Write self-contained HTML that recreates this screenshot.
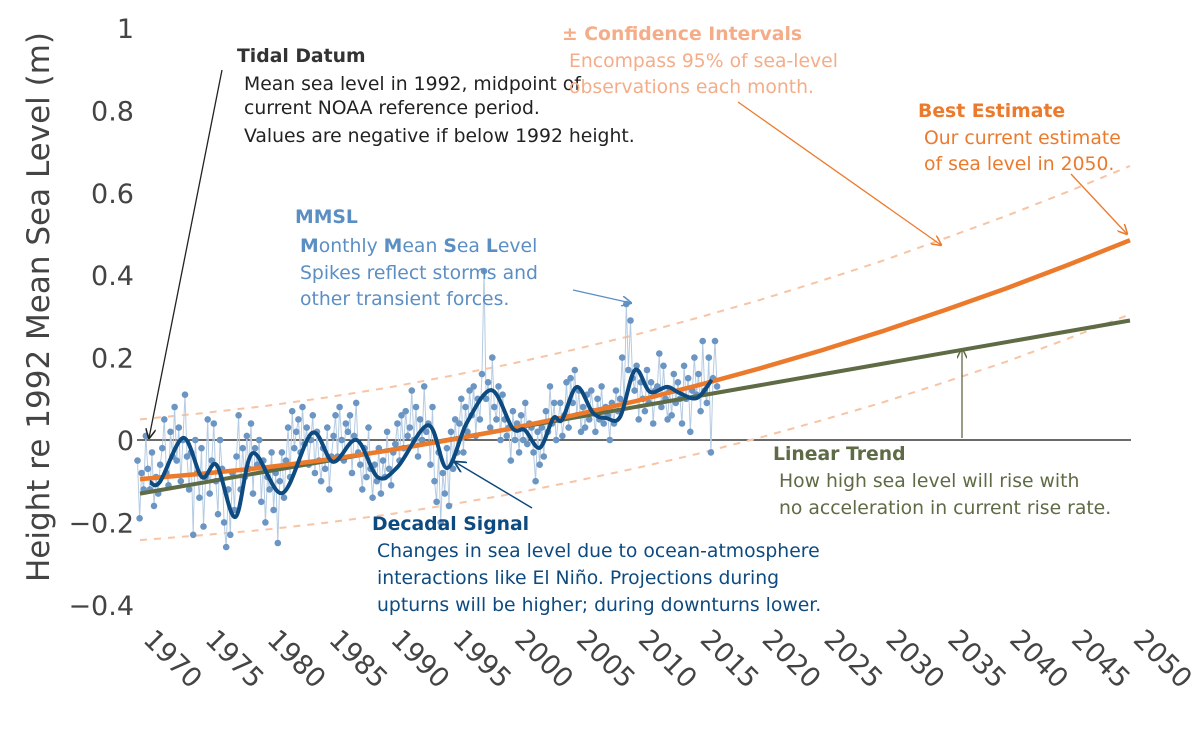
<!DOCTYPE html>
<html><head><meta charset="utf-8"><style>
html,body{margin:0;padding:0;background:#fff;}
svg{display:block;font-family:"DejaVu Sans","Liberation Sans",sans-serif;}
</style></head><body>
<svg id="chart" width="1200" height="737" viewBox="0 0 1200 737">
<defs>
<marker id="ah" viewBox="0 0 10 10" refX="9" refY="5" markerWidth="8" markerHeight="8" orient="auto-start-reverse"><path d="M0,0 L10,5 L0,10" fill="none" stroke="context-stroke" stroke-width="1.5"/></marker>
</defs>
<g id="axes"></g>
<g id="marks"></g>
<g id="notes" font-size="18.8">
  <text x="237" y="62" font-weight="bold" fill="#333">Tidal Datum</text>
  <text x="244" y="90" fill="#222">Mean sea level in 1992, midpoint of<tspan x="244" y="114">current NOAA reference period.</tspan><tspan x="244" y="142">Values are negative if below 1992 height.</tspan></text>
  <line x1="222" y1="70" x2="149" y2="438" stroke="#222" stroke-width="1.3" marker-end="url(#ah)"/>

  <text x="562" y="40" font-weight="bold" fill="#f4ad88">± Confidence Intervals</text>
  <text x="569" y="67" fill="#f4ad88">Encompass 95% of sea-level<tspan x="569" y="93">observations each month.</tspan></text>
  <line x1="738" y1="102" x2="941" y2="245" stroke="#ec7a2c" stroke-width="1.3" marker-end="url(#ah)"/>

  <text x="918" y="117" font-weight="bold" fill="#ec7a2c">Best Estimate</text>
  <text x="924" y="144" fill="#ec7a2c">Our current estimate<tspan x="924" y="170">of sea level in 2050.</tspan></text>
  <line x1="1071" y1="174" x2="1127" y2="234" stroke="#ec7a2c" stroke-width="1.3" marker-end="url(#ah)"/>

  <text x="295" y="223" font-weight="bold" fill="#5b8fc4">MMSL</text>
  <text x="300" y="252" fill="#5b8fc4"><tspan font-weight="bold">M</tspan>onthly <tspan font-weight="bold">M</tspan>ean <tspan font-weight="bold">S</tspan>ea <tspan font-weight="bold">L</tspan>evel<tspan x="300" y="279">Spikes reflect storms and</tspan><tspan x="300" y="305">other transient forces.</tspan></text>
  <line x1="573" y1="290" x2="631" y2="303" stroke="#5b8fc4" stroke-width="1.3" marker-end="url(#ah)"/>

  <text x="773" y="460" font-weight="bold" fill="#5e6b45">Linear Trend</text>
  <text x="779" y="487" fill="#5e6b45">How high sea level will rise with<tspan x="779" y="514">no acceleration in current rise rate.</tspan></text>
  <line x1="962" y1="438" x2="962" y2="349" stroke="#5e6b45" stroke-width="1.3" marker-end="url(#ah)"/>

  <text x="372" y="530" font-weight="bold" fill="#0d4a80">Decadal Signal</text>
  <text x="377" y="557" fill="#0d4a80">Changes in sea level due to ocean-atmosphere<tspan x="377" y="584">interactions like El Niño. Projections during</tspan><tspan x="377" y="611">upturns will be higher; during downturns lower.</tspan></text>
  <line x1="532" y1="508" x2="455" y2="462" stroke="#0d4a80" stroke-width="1.5" marker-end="url(#ah)"/>
</g>
</svg>
<script>
const yTicks=[-0.4,-0.2,0,0.2,0.4,0.6,0.8,1];
const yTickLabels=["\u22120.4","\u22120.2","0","0.2","0.4","0.6","0.8","1"];
const xTicks=[1970,1975,1980,1985,1990,1995,2000,2005,2010,2015,2020,2025,2030,2035,2040,2045,2050];
const projYears=[1970,1975,1980,1985,1990,1995,2000,2005,2010,2015,2020,2025,2030,2035,2040,2045,2050];
const bestEstimate=[-0.095,-0.082,-0.067,-0.048,-0.026,0.000,0.028,0.060,0.094,0.132,0.173,0.217,0.264,0.315,0.368,0.425,0.485];
const upperCI=[0.050,0.065,0.082,0.103,0.127,0.155,0.185,0.219,0.255,0.296,0.339,0.386,0.435,0.489,0.544,0.603,0.665];
const lowerCI=[-0.243,-0.231,-0.218,-0.201,-0.181,-0.157,-0.131,-0.101,-0.069,-0.034,0.005,0.047,0.091,0.140,0.190,0.246,0.305];
const trendYears=[1970,2050];
const linearTrend=[-0.13,0.29];
const decadalYears=[1970.8,1971.6,1973.5,1975.0,1976.2,1977.7,1979.1,1981.5,1983.9,1985.6,1987.5,1989.2,1990.8,1993.3,1994.8,1996.4,1998.4,2000.1,2001.1,2002.3,2003.4,2004.1,2005.3,2006.6,2007.7,2008.8,2010.0,2011.2,2012.6,2013.6,2015.0,2016.2];
const decadalValues=[-0.102,-0.102,0.005,-0.09,-0.061,-0.187,-0.032,-0.129,0.017,-0.053,0.0,-0.09,-0.066,0.036,-0.068,0.041,0.121,0.029,0.024,-0.019,0.053,0.049,0.129,0.066,0.053,0.056,0.170,0.117,0.129,0.114,0.102,0.146];
const mmslStartYear=1969.8;
const mmslPerYear=6;
const mmslValues=[
-0.05,-0.19,-0.08,-0.12,0.01,-0.07, -0.12,-0.03,-0.16,-0.09,-0.13,-0.06, -0.02,0.05,-0.08,-0.11,0.02,-0.04,
0.08,-0.05,0.03,-0.1,0.0,0.11, -0.04,-0.12,-0.03,-0.23,0.0,-0.08, -0.14,-0.02,-0.21,-0.09,0.05,-0.13,
-0.05,0.04,-0.1,-0.18,0.0,-0.07, -0.2,-0.26,-0.12,-0.23,-0.08,-0.17, -0.04,0.06,-0.12,-0.02,-0.09,0.01,
-0.07,0.04,-0.13,-0.02,-0.06,0.0, -0.15,-0.05,-0.2,-0.09,-0.12,-0.03, -0.17,-0.08,-0.25,-0.1,-0.03,-0.14,
-0.05,0.03,-0.09,0.07,-0.02,0.02, 0.05,-0.03,0.08,-0.01,0.03,-0.06, 0.0,0.06,-0.08,0.02,-0.05,-0.1,
-0.02,-0.07,0.03,-0.12,-0.04,0.01, 0.06,-0.04,0.08,0.0,-0.05,0.04, 0.02,0.06,-0.08,0.01,0.09,-0.03,
-0.06,-0.12,-0.02,-0.09,0.03,-0.07, -0.14,-0.06,-0.1,-0.02,-0.13,-0.05, -0.09,0.02,-0.07,-0.11,-0.03,-0.01,
0.04,-0.05,0.06,-0.02,0.07,0.01, 0.03,0.12,0.0,0.08,-0.04,0.05, 0.0,0.13,0.02,0.04,-0.06,0.08,
-0.1,-0.15,-0.03,-0.2,-0.08,-0.13, -0.02,-0.16,0.02,-0.07,0.05,-0.03, 0.04,0.1,-0.03,0.08,0.02,0.12,
0.06,0.13,0.01,0.1,0.05,0.16, 0.41,0.1,0.14,0.03,0.2,0.08, 0.05,0.13,0.0,0.11,0.05,0.01,
0.03,-0.05,0.07,0.0,0.04,-0.03, 0.06,0.0,0.09,-0.01,0.04,0.03, -0.03,-0.1,0.02,-0.06,0.03,-0.04,
0.07,0.02,0.13,0.04,0.09,0.0, 0.05,0.09,0.01,0.06,0.14,0.03, 0.15,0.09,0.17,0.06,0.12,0.02,
0.08,0.03,0.11,0.05,0.12,0.07, 0.02,0.1,0.05,0.13,0.04,0.08, 0.06,0.0,0.09,0.04,0.12,0.07,
0.1,0.2,0.09,0.33,0.17,0.29, 0.15,0.12,0.18,0.05,0.14,0.1, 0.07,0.17,0.09,0.14,0.04,0.12,
0.13,0.21,0.08,0.18,0.1,0.05, 0.12,0.06,0.16,0.09,0.14,0.1, 0.04,0.18,0.1,0.15,0.02,0.12,
0.2,0.11,0.16,0.07,0.24,0.12, 0.09,0.2,-0.03,0.15,0.24,0.13];

const NS="http://www.w3.org/2000/svg";
const X=yr=>140+(yr-1970)*12.375;
const Y=v=>440-v*412;
function mk(tag,parent,attrs){const e=document.createElementNS(NS,tag);for(const k in attrs)e.setAttribute(k,attrs[k]);parent.appendChild(e);return e;}
const axes=document.getElementById('axes'), marks=document.getElementById('marks');

yTicks.forEach((v,i)=>{
  const t=mk('text',axes,{x:134,y:Y(v)+10,'text-anchor':'end','font-size':27,fill:'#444'});
  
  
  t.textContent=yTickLabels[i];
});
xTicks.forEach(yr=>{
  const t=mk('text',axes,{x:0,y:0,transform:`translate(${X(yr)+2},${641}) rotate(45)`,'font-size':27,fill:'#444'});
  
  
  t.textContent=String(yr);
});
const yt=mk('text',axes,{x:0,y:0,transform:'translate(49,307) rotate(-90)','text-anchor':'middle','font-size':31,fill:'#444'});


yt.textContent='Height re 1992 Mean Sea Level (m)';

const zl=mk('line',axes,{x1:137,x2:1131,y1:Y(0),y2:Y(0),stroke:'#111','stroke-width':1.3});



function poly(xs,ys,attrs,name){
  const pts=xs.map((x,i)=>X(x).toFixed(1)+','+Y(ys[i]).toFixed(1)).join(' ');
  const p=mk('polyline',marks,Object.assign({points:pts,fill:'none'},attrs));
  
  
  return p;
}
function smooth(xs,ys,attrs,name){
  const P=xs.map((x,i)=>[X(x),Y(ys[i])]);
  let d='M'+P[0][0].toFixed(1)+','+P[0][1].toFixed(1);
  for(let i=0;i<P.length-1;i++){
    const p0=P[Math.max(0,i-1)],p1=P[i],p2=P[i+1],p3=P[Math.min(P.length-1,i+2)];
    const c1=[p1[0]+(p2[0]-p0[0])/6,p1[1]+(p2[1]-p0[1])/6];
    const c2=[p2[0]-(p3[0]-p1[0])/6,p2[1]-(p3[1]-p1[1])/6];
    d+=` C${c1[0].toFixed(1)},${c1[1].toFixed(1)} ${c2[0].toFixed(1)},${c2[1].toFixed(1)} ${p2[0].toFixed(1)},${p2[1].toFixed(1)}`;
  }
  const p=mk('path',marks,Object.assign({d:d,fill:'none'},attrs));
  
  
}
poly(projYears,upperCI,{stroke:'#f7c4a6','stroke-width':2,'stroke-dasharray':'7,7'},'upper-confidence-line');
poly(projYears,lowerCI,{stroke:'#f7c4a6','stroke-width':2,'stroke-dasharray':'7,7'},'lower-confidence-line');

const mx=mmslValues.map((v,i)=>mmslStartYear+i/mmslPerYear);
poly(mx,mmslValues,{stroke:'#b5cbe2','stroke-width':1},'mmsl-line');
const dots=mk('g',marks,{});


mmslValues.forEach((v,i)=>{
  const c=mk('circle',dots,{cx:X(mx[i]).toFixed(1),cy:Y(v).toFixed(1),r:3.3,fill:'#6b95c2'});
  
  
});
poly(trendYears,linearTrend,{stroke:'#5e6b45','stroke-width':4},'linear-trend-line');
poly(projYears,bestEstimate,{stroke:'#ec7a2c','stroke-width':4.5},'best-estimate-line');
smooth(decadalYears,decadalValues,{stroke:'#0d4a80','stroke-width':4,'stroke-linejoin':'round'},'decadal-signal-line');
</script>
</body></html>
